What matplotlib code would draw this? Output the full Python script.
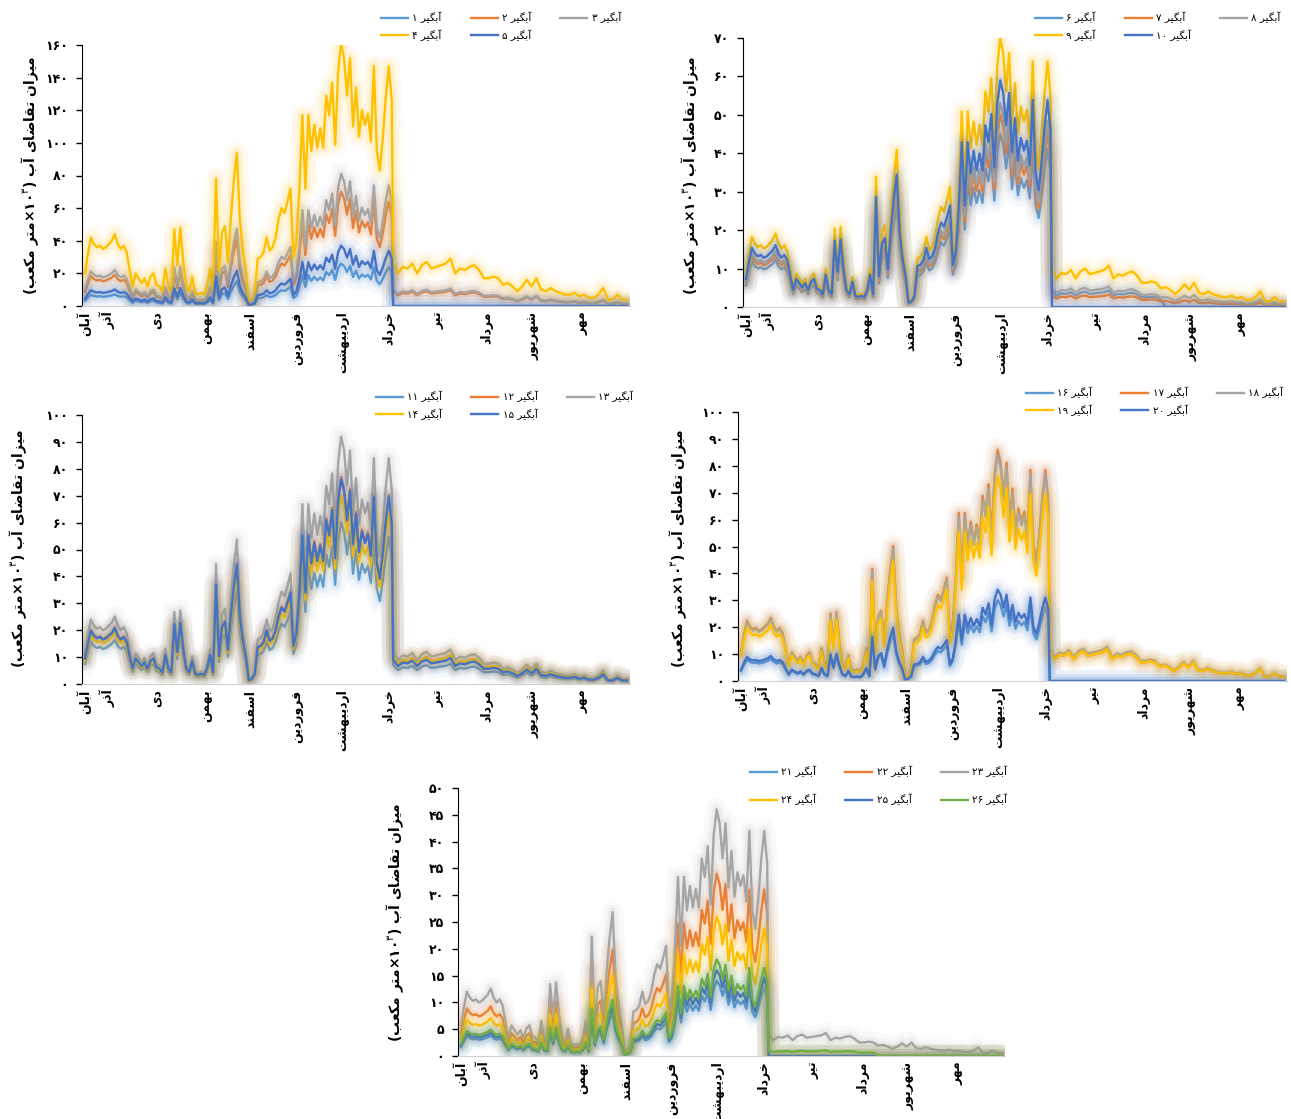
import re
import numpy as np
import matplotlib
matplotlib.use('Agg')
import matplotlib.pyplot as plt

plt.rcParams['font.family'] = ['DejaVu Sans']
plt.rcParams['mathtext.fontset'] = 'dejavusans'

# ---------------- data ----------------
months = ['آبان', 'آذر', 'دی', 'بهمن', 'اسفند', 'فروردین', 'اردیبهشت',
          'خرداد', 'تیر', 'مرداد', 'شهریور', 'مهر']
month_pos = [0, 15, 48, 81, 111, 142, 173, 204, 237, 270, 301, 334]

# aquifer 4 (largest series), every 2nd day from Aban to the Khordad drop
spring = [20, 32, 42, 38, 36, 37, 35, 36, 38, 40,
          44, 38, 35, 37, 33, 22, 12, 20, 17, 14,
          17, 12, 18, 20, 13, 12, 9, 23, 12, 9,
          47, 25, 48, 27, 12, 9, 18, 8, 7, 8,
          7, 12, 23, 9, 78, 22, 45, 49, 27, 55,
          77, 94, 53, 34, 22, 3, 4, 8, 29, 30,
          33, 42, 34, 36, 42, 53, 60, 57, 64, 72,
          30, 40, 72, 117, 72, 117, 95, 111, 97, 109,
          97, 129, 117, 137, 99, 144, 161, 152, 129, 152,
          110, 134, 104, 120, 111, 118, 101, 147, 95, 83,
          103, 128, 147, 126]
# aquifer 4 after the drop, Tir to end of Mehr
summer = [27, 20, 24, 23, 26, 20, 25, 27, 23, 24,
          25, 26, 29, 20, 23, 22, 24, 25, 22, 17,
          17, 18, 17, 13, 14, 12, 9, 12, 16, 12,
          17, 10, 9, 11, 9, 8, 7, 7, 8, 6,
          7, 5, 5, 7, 11, 4, 4, 7, 4, 4]

p1_ids = [1, 2, 3, 4, 5]
p1_peak = [26, 70, 81, 161, 37]
p1_tail = [0, 9, 10, 27, 0]
p1_stop = [365, 365, 365, 365, 365]

p2_ids = [6, 7, 8, 9, 10]
p2_peak = [45, 50, 53, 70, 59]
p2_tail = [4, 3, 5, 10, 0]
p2_stop = [283, 365, 365, 365, 365]

p3_ids = [11, 12, 13, 14, 15]
p3_peak = [60, 77, 92, 70, 76]
p3_tail = [7, 10, 12, 10, 9]
p3_stop = [365, 365, 365, 365, 365]

p4_ids = [16, 17, 18, 19, 20]
p4_peak = [30, 86, 84, 76, 34]
p4_tail = [0, 11, 12, 11, 0]
p4_stop = [365, 365, 365, 365, 365]

p5_ids = [21, 22, 23, 24, 25, 26]
p5_peak = [14, 34, 46, 26, 16, 18]
p5_tail = [0, 0, 4, 0, 0, 1]
p5_stop = [365, 365, 365, 365, 365, 280]

colors = ['#5B9BD5', '#ED7D31', '#A5A5A5', '#FFC000', '#4472C4', '#70AD47']

# ---------------- persian text helpers ----------------
FORMS = {  # isolated, final, initial, medial
    'ا': ('\uFE8D', '\uFE8E', None, None),
    'آ': ('\uFE81', '\uFE82', None, None),
    'ب': ('\uFE8F', '\uFE90', '\uFE91', '\uFE92'),
    'ت': ('\uFE95', '\uFE96', '\uFE97', '\uFE98'),
    'خ': ('\uFEA5', '\uFEA6', '\uFEA7', '\uFEA8'),
    'د': ('\uFEA9', '\uFEAA', None, None),
    'ذ': ('\uFEAB', '\uFEAC', None, None),
    'ر': ('\uFEAD', '\uFEAE', None, None),
    'ز': ('\uFEAF', '\uFEB0', None, None),
    'س': ('\uFEB1', '\uFEB2', '\uFEB3', '\uFEB4'),
    'ش': ('\uFEB5', '\uFEB6', '\uFEB7', '\uFEB8'),
    'ض': ('\uFEBD', '\uFEBE', '\uFEBF', '\uFEC0'),
    'ع': ('\uFEC9', '\uFECA', '\uFECB', '\uFECC'),
    'ف': ('\uFED1', '\uFED2', '\uFED3', '\uFED4'),
    'ق': ('\uFED5', '\uFED6', '\uFED7', '\uFED8'),
    'م': ('\uFEE1', '\uFEE2', '\uFEE3', '\uFEE4'),
    'ن': ('\uFEE5', '\uFEE6', '\uFEE7', '\uFEE8'),
    'ه': ('\uFEE9', '\uFEEA', '\uFEEB', '\uFEEC'),
    'و': ('\uFEED', '\uFEEE', None, None),
    '\u06cc': ('\uFBFC', '\uFBFD', '\uFBFE', '\uFBFF'),
    '\u06a9': ('\uFB8E', '\uFB8F', '\uFB90', '\uFB91'),
    'گ': ('\uFB92', '\uFB93', '\uFB94', '\uFB95'),
}
FA_DIGITS = str.maketrans('0123456789', '۰۱۲۳۴۵۶۷۸۹')


def fa(text):
    text = text.replace('\u064a', '\u06cc').replace('\u0643', '\u06a9')
    text = text.translate(FA_DIGITS)
    out = []
    for i, ch in enumerate(text):
        if ch not in FORMS:
            out.append(ch)
            continue
        f = FORMS[ch]
        prev = text[i - 1] if i > 0 else ''
        nxt = text[i + 1] if i + 1 < len(text) else ''
        join_prev = prev in FORMS and FORMS[prev][2] is not None
        join_next = f[2] is not None and nxt in FORMS
        if join_prev and join_next:
            out.append(f[3])
        elif join_prev:
            out.append(f[1])
        elif join_next:
            out.append(f[2])
        else:
            out.append(f[0])
    s = ''.join(out)[::-1]
    s = re.sub('[\u06f0-\u06f9]+', lambda m: m.group(0)[::-1], s)
    return s.translate(str.maketrans('()', ')('))


ylabel = fa('میزان تقاضای آب (10' + '3' + '×متر مکعب)').replace('۱۰۳', '۱۰$^{۳}$')

# ---------------- figure ----------------
W, H = 1291, 1119
fig = plt.figure(figsize=(W / 100, H / 100), dpi=100)

days_sp = np.arange(0, 2 * len(spring), 2)
days_su = np.linspace(207, 364, len(summer))
shape_sp = np.array(spring) / max(spring)
shape_su = np.array(summer) / summer[0]
days = np.concatenate([days_sp, days_su])

panels = [
    # (left, top, right, bottom) px, ymax, step, ids, peaks, tails, stops, legend xy, row spacing, ylabel xy
    ((82, 45, 630, 306), 160, 20, p1_ids, p1_peak, p1_tail, p1_stop, (381, 12), 0.55, (30, 175)),
    ((743, 38, 1287, 307), 70, 10, p2_ids, p2_peak, p2_tail, p2_stop, (1035, 12), 0.55, (690, 175)),
    ((82, 415, 630, 684), 100, 10, p3_ids, p3_peak, p3_tail, p3_stop, (376, 391), 0.55, (18, 548)),
    ((738, 412, 1287, 681), 100, 10, p4_ids, p4_peak, p4_tail, p4_stop, (1026, 387), 0.55, (678, 548)),
    ((458, 788, 1005, 1056), 50, 5, p5_ids, p5_peak, p5_tail, p5_stop, (750, 766), 1.55, (395, 922)),
]

for (l, t, r, b), ymax, step, ids, peaks, tails, stops, leg_xy, lsp, lab_xy in panels:
    ax = fig.add_axes([l / W, 1 - b / H, (r - l) / W, (b - t) / H])
    handles = []
    for k, aq in enumerate(ids):
        c = colors[k]
        tail = shape_su * tails[k]
        tail[days_su > stops[k]] = 0
        y = np.concatenate([shape_sp * peaks[k], tail])
        for lw, a in [(16, 0.05), (10, 0.07), (6, 0.10)]:
            ax.plot(days, y, color=c, lw=lw, alpha=a, solid_joinstyle='round',
                    solid_capstyle='round')
        h, = ax.plot(days, y, color=c, lw=1.7, solid_joinstyle='round',
                     label=fa('آبگیر %d' % aq))
        handles.append(h)

    ax.set_xlim(-2, 366)
    ax.set_ylim(0, ymax)
    ticks = np.arange(0, ymax + 1, step)
    ax.set_yticks(ticks)
    ax.set_yticklabels([fa(str(v)) for v in ticks], fontsize=9, fontweight='bold')
    ax.set_xticks(month_pos)
    ax.set_xticklabels([fa(m) for m in months], rotation=90, fontsize=9,
                       fontweight='bold')
    ax.tick_params(axis='x', length=0, pad=4)
    ax.tick_params(axis='y', length=4, width=1, direction='out', pad=6)
    for s in ['top', 'right']:
        ax.spines[s].set_visible(False)
    ax.spines['left'].set_color('#000000')
    ax.spines['bottom'].set_color('#D0D0D0')
    ax.patch.set_alpha(0)

    fig.text(lab_xy[0] / W, 1 - lab_xy[1] / H, ylabel, rotation=90,
             ha='center', va='center', fontsize=10, fontweight='bold')

    # row-major legend order with 3 columns
    n = len(handles)
    rows = [handles[i:i + 3] for i in range(0, n, 3)]
    order = []
    for ci in range(3):
        for row in rows:
            if ci < len(row):
                order.append(row[ci])
    fig.legend(handles=order, labels=[h.get_label() for h in order], ncol=3,
               loc='upper left', bbox_to_anchor=(leg_xy[0] / W, 1 - leg_xy[1] / H),
               frameon=False, fontsize=7.5, handlelength=2.6, handletextpad=0.4,
               columnspacing=2.8, labelspacing=lsp, borderpad=0, borderaxespad=0)

fig.savefig('out.png', dpi=100)
